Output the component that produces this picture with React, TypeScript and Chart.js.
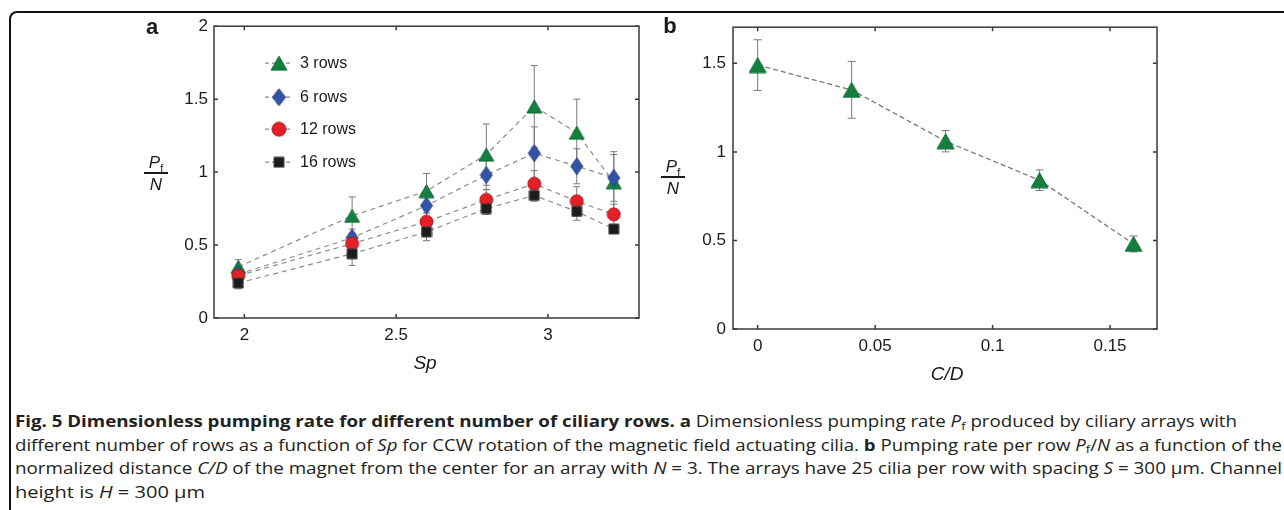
import React, { useEffect, useLayoutEffect, useRef } from "react";
import { Chart, registerables } from "chart.js";
Chart.register(...registerables);

// ---------- Panel a data ----------
const spValues = [1.98, 2.355, 2.6, 2.797, 2.955, 3.095, 3.217];
const rows3 = [0.35, 0.7, 0.87, 1.12, 1.45, 1.27, 0.93];
const rows3Err = [0.05, 0.13, 0.12, 0.21, 0.28, 0.23, 0.21];
const rows6 = [0.3, 0.55, 0.77, 0.98, 1.13, 1.04, 0.96];
const rows6Err = [0.04, 0.06, 0.08, 0.1, 0.18, 0.12, 0.16];
const rows12 = [0.29, 0.51, 0.66, 0.81, 0.92, 0.8, 0.71];
const rows12Err = [0.04, 0.07, 0.06, 0.07, 0.09, 0.1, 0.07];
const rows16 = [0.24, 0.44, 0.59, 0.75, 0.84, 0.73, 0.61];
const rows16Err = [0.04, 0.08, 0.06, 0.04, 0.04, 0.06, 0.03];
const seriesLabels = ["3 rows", "6 rows", "12 rows", "16 rows"];

const xTicksA = [2, 2.5, 3];
const xTickLabelsA = ["2", "2.5", "3"];
const yTicksA = [0, 0.5, 1, 1.5, 2];
const yTickLabelsA = ["0", "0.5", "1", "1.5", "2"];

// ---------- Panel b data ----------
const cdValues = [0, 0.04, 0.08, 0.12, 0.16];
const pfPerRow = [1.49, 1.35, 1.06, 0.84, 0.48];
const pfPerRowErr = [0.143, 0.16, 0.06, 0.058, 0.045];

const xTicksB = [0, 0.05, 0.1, 0.15];
const xTickLabelsB = ["0", "0.05", "0.1", "0.15"];
const yTicksB = [0, 0.5, 1, 1.5];
const yTickLabelsB = ["0", "0.5", "1", "1.5"];

const FONT = '"Liberation Sans", Arial, Helvetica, sans-serif';

function makeMarker(kind: string, fill: string, stroke: string, w: number, h: number) {
  const c = document.createElement("canvas");
  c.width = w + 2;
  c.height = h + 2;
  const ctx = c.getContext("2d")!;
  ctx.fillStyle = fill;
  ctx.strokeStyle = stroke;
  ctx.lineWidth = 1;
  ctx.beginPath();
  const cx = c.width / 2;
  const cy = c.height / 2;
  if (kind === "triangle") {
    ctx.moveTo(cx, 1);
    ctx.lineTo(w + 1, h + 1);
    ctx.lineTo(1, h + 1);
    ctx.closePath();
  } else if (kind === "diamond") {
    ctx.moveTo(cx, 1);
    ctx.lineTo(w + 1, cy);
    ctx.lineTo(cx, h + 1);
    ctx.lineTo(1, cy);
    ctx.closePath();
  } else if (kind === "circle") {
    ctx.ellipse(cx, cy, w / 2, h / 2, 0, 0, Math.PI * 2);
  } else {
    ctx.rect(1, 1, w, h);
  }
  ctx.fill();
  ctx.stroke();
  return c;
}

function labelFor(values: number[], labels: string[]) {
  return (v: any) => {
    const i = values.findIndex((t) => Math.abs(t - Number(v)) < 1e-9);
    return i >= 0 ? labels[i] : "";
  };
}

const boxPlugin = {
  id: "boxTicks",
  beforeDatasetsDraw(chart: any) {
    const { ctx, chartArea: a, scales } = chart;
    ctx.save();
    ctx.strokeStyle = "#3a3a3a";
    ctx.lineWidth = 1.5;
    ctx.strokeRect(a.left, a.top, a.right - a.left, a.bottom - a.top);
    const L = 4;
    ctx.beginPath();
    scales.x.ticks.forEach((t: any) => {
      const x = scales.x.getPixelForValue(t.value);
      ctx.moveTo(x, a.bottom);
      ctx.lineTo(x, a.bottom - L);
      ctx.moveTo(x, a.top);
      ctx.lineTo(x, a.top + L);
    });
    scales.y.ticks.forEach((t: any) => {
      const y = scales.y.getPixelForValue(t.value);
      ctx.moveTo(a.left, y);
      ctx.lineTo(a.left + L, y);
      ctx.moveTo(a.right, y);
      ctx.lineTo(a.right - L, y);
    });
    ctx.stroke();
    ctx.restore();
  },
};

const errorBarPlugin = {
  id: "errorBars",
  beforeDatasetsDraw(chart: any) {
    const { ctx, scales } = chart;
    chart.data.datasets.forEach((ds: any) => {
      const errs = ds.errors;
      if (!errs) return;
      ctx.save();
      ctx.strokeStyle = "#7a7a7a";
      ctx.lineWidth = 1;
      ctx.beginPath();
      ds.data.forEach((p: any, j: number) => {
        const x = scales.x.getPixelForValue(p.x);
        const y1 = scales.y.getPixelForValue(p.y - errs[j]);
        const y2 = scales.y.getPixelForValue(p.y + errs[j]);
        const cw = ds.capHalf || 3.5;
        ctx.moveTo(x, y1);
        ctx.lineTo(x, y2);
        ctx.moveTo(x - cw, y1);
        ctx.lineTo(x + cw, y1);
        ctx.moveTo(x - cw, y2);
        ctx.lineTo(x + cw, y2);
      });
      ctx.stroke();
      ctx.restore();
    });
  },
};

const legendPlugin = {
  id: "insideLegend",
  afterDatasetsDraw(chart: any) {
    const { ctx, chartArea: a } = chart;
    const offsets = [37, 71, 103, 136];
    chart.data.datasets.forEach((ds: any, i: number) => {
      const y = a.top + offsets[i];
      ctx.save();
      ctx.setLineDash([4, 3]);
      ctx.strokeStyle = "#8a8a8a";
      ctx.lineWidth = 1.2;
      ctx.beginPath();
      ctx.moveTo(a.left + 51, y);
      ctx.lineTo(a.left + 79, y);
      ctx.stroke();
      ctx.setLineDash([]);
      const img = ds.legendImage;
      ctx.drawImage(img, a.left + 65 - img.width / 2, y - img.height / 2);
      ctx.fillStyle = "#1a1a1a";
      ctx.font = `16px ${FONT}`;
      ctx.textBaseline = "middle";
      ctx.textAlign = "left";
      ctx.fillText(ds.label, a.left + 86, y);
      ctx.restore();
    });
  },
};

function axisConfig(
  min: number,
  max: number,
  ticks: number[],
  labels: string[],
  fitSize: number,
  horizontal: boolean,
  padding: number
) {
  return {
    type: "linear",
    min,
    max,
    grid: { display: false, drawTicks: false },
    border: { display: false },
    afterBuildTicks: (s: any) => {
      s.ticks = ticks.map((v) => ({ value: v }));
    },
    afterFit: (s: any) => {
      if (horizontal) s.height = fitSize;
      else s.width = fitSize;
    },
    ticks: {
      padding,
      color: "#1a1a1a",
      font: { size: 17, family: FONT },
      maxRotation: 0,
      autoSkip: false,
      callback: labelFor(ticks, labels),
    },
  };
}

const captionWidths = [1222, 1267, 1267, 190];

const abs = (x: number, y: number, extra: React.CSSProperties = {}): React.CSSProperties => ({
  position: "absolute",
  left: x,
  top: y,
  transform: "translate(-50%, -50%)",
  whiteSpace: "nowrap",
  fontFamily: FONT,
  color: "#1a1a1a",
  lineHeight: 1,
  ...extra,
});

function Fraction({ cx, lineY }: { cx: number; lineY: number }) {
  return (
    <>
      <div style={abs(cx, lineY - 11, { fontSize: 17 })}>
        <i>P</i>
        <span style={{ fontSize: 11, position: "relative", top: 4 }}>f</span>
      </div>
      <div
        style={{
          position: "absolute",
          left: cx - 12,
          top: lineY - 0.6,
          width: 24,
          height: 1.3,
          background: "#1a1a1a",
        }}
      />
      <div style={abs(cx, lineY + 11, { fontSize: 17 })}>
        <i>N</i>
      </div>
    </>
  );
}

export default function App() {
  const refA = useRef<HTMLCanvasElement>(null);
  const refB = useRef<HTMLCanvasElement>(null);
  const capRefs = useRef<(HTMLSpanElement | null)[]>([]);

  useLayoutEffect(() => {
    capRefs.current.forEach((el, i) => {
      if (!el) return;
      el.style.transform = "none";
      const w = el.getBoundingClientRect().width;
      if (w > 0) el.style.transform = `scaleX(${captionWidths[i] / w})`;
    });
  }, []);

  useEffect(() => {
    const green = makeMarker("triangle", "#138040", "#0d6a33", 15, 13);
    const blue = makeMarker("diamond", "#3553a6", "#243f8a", 12, 17);
    const red = makeMarker("circle", "#e41f26", "#b3161b", 13, 13);
    const black = makeMarker("rect", "#1c1c1c", "#444", 10, 10);
    const greenL = makeMarker("triangle", "#138040", "#0d6a33", 16, 14);
    const blueL = makeMarker("diamond", "#3553a6", "#243f8a", 13, 17);
    const redL = makeMarker("circle", "#e41f26", "#b3161b", 14, 14);
    const blackL = makeMarker("rect", "#1c1c1c", "#444", 10, 10);
    const greenB = makeMarker("triangle", "#138040", "#0d6a33", 17, 15);

    const series = [
      { y: rows3, e: rows3Err, img: green, leg: greenL, order: 4 },
      { y: rows6, e: rows6Err, img: blue, leg: blueL, order: 3 },
      { y: rows12, e: rows12Err, img: red, leg: redL, order: 2 },
      { y: rows16, e: rows16Err, img: black, leg: blackL, order: 1 },
    ];

    const chartA = new Chart(refA.current!, {
      type: "line",
      data: {
        datasets: series.map((s, i) => ({
          label: seriesLabels[i],
          data: spValues.map((x, j) => ({ x, y: s.y[j] })),
          errors: s.e,
          legendImage: s.leg,
          order: s.order,
          borderColor: "#8c8c8c",
          borderWidth: 1.2,
          borderDash: [5, 4],
          pointStyle: s.img,
          pointRadius: 6,
          tension: 0,
          fill: false,
        })) as any,
      },
      options: {
        responsive: false,
        animation: false,
        devicePixelRatio: 1,
        layout: { padding: { top: 16, right: 21, left: 0, bottom: 0 } },
        plugins: { legend: { display: false }, tooltip: { enabled: false } },
        scales: {
          x: axisConfig(1.9, 3.3, xTicksA, xTickLabelsA, 37, true, 7) as any,
          y: axisConfig(0, 2, yTicksA, yTickLabelsA, 84, false, 6) as any,
        },
      },
      plugins: [boxPlugin, errorBarPlugin, legendPlugin],
    });

    const chartB = new Chart(refB.current!, {
      type: "line",
      data: {
        datasets: [
          {
            label: "3 rows",
            data: cdValues.map((x, j) => ({ x, y: pfPerRow[j] })),
            errors: pfPerRowErr,
            capHalf: 4,
            borderColor: "#7a7a7a",
            borderWidth: 1.3,
            borderDash: [5, 3],
            pointStyle: greenB,
            pointRadius: 6,
            tension: 0,
            fill: false,
          } as any,
        ],
      },
      options: {
        responsive: false,
        animation: false,
        devicePixelRatio: 1,
        layout: { padding: { top: 16, right: 23, left: 0, bottom: 0 } },
        plugins: { legend: { display: false }, tooltip: { enabled: false } },
        scales: {
          x: axisConfig(-0.0105, 0.17, xTicksB, xTickLabelsB, 41, true, 7) as any,
          y: axisConfig(0, 1.704, yTicksB, yTickLabelsB, 83, false, 7) as any,
        },
      },
      plugins: [boxPlugin, errorBarPlugin],
    });

    return () => {
      chartA.destroy();
      chartB.destroy();
    };
  }, []);

  const capLine = (i: number, content: React.ReactNode) => (
    <div
      key={i}
      style={{
        position: "absolute",
        left: 15,
        top: 410 + i * 23.5,
        height: 23.5,
        lineHeight: "23.5px",
        whiteSpace: "nowrap",
      }}
    >
      <span
        ref={(el) => {
          capRefs.current[i] = el;
        }}
        style={{ display: "inline-block", transformOrigin: "left center" }}
      >
        {content}
      </span>
    </div>
  );

  const sub = (t: string) => (
    <span style={{ fontSize: "0.7em", position: "relative", top: "0.25em" }}>{t}</span>
  );

  return (
    <div
      style={{
        position: "fixed",
        left: 0,
        top: 0,
        width: 1284,
        height: 510,
        background: "#fff",
        overflow: "hidden",
      }}
    >
      {/* outer frame */}
      <div
        style={{
          position: "absolute",
          left: 9,
          top: 10.5,
          width: 1300,
          height: 520,
          boxSizing: "border-box",
          borderTop: "2px solid #111",
          borderLeft: "2px solid #111",
          borderTopLeftRadius: 8,
        }}
      />

      <canvas
        ref={refA}
        width={530}
        height={345}
        style={{ position: "absolute", left: 130, top: 10, width: 530, height: 345 }}
      />
      <canvas
        ref={refB}
        width={530}
        height={360}
        style={{ position: "absolute", left: 650, top: 10, width: 530, height: 360 }}
      />

      {/* panel labels and axis titles */}
      <div style={abs(152, 27, { fontSize: 22, fontWeight: "bold" })}>a</div>
      <div style={abs(670, 26, { fontSize: 22, fontWeight: "bold" })}>b</div>
      <Fraction cx={156} lineY={173} />
      <Fraction cx={673} lineY={177} />
      <div style={abs(425, 362, { fontSize: 19, fontStyle: "italic" })}>Sp</div>
      <div style={abs(947, 373, { fontSize: 19, fontStyle: "italic" })}>C/D</div>

      {/* caption */}
      <div style={{ fontFamily: '"Open Sans", sans-serif', fontSize: 16, color: "#222" }}>
        {capLine(
          0,
          <>
            <b>Fig. 5 Dimensionless pumping rate for different number of ciliary rows. a</b>{" "}
            Dimensionless pumping rate <i>P</i>
            {sub("f")} produced by ciliary arrays with
          </>
        )}
        {capLine(
          1,
          <>
            different number of rows as a function of <i>Sp</i> for CCW rotation of the magnetic field
            actuating cilia. <b>b</b> Pumping rate per row <i>P</i>
            {sub("f")}/<i>N</i> as a function of the
          </>
        )}
        {capLine(
          2,
          <>
            normalized distance <i>C/D</i> of the magnet from the center for an array with <i>N</i> = 3.
            The arrays have 25 cilia per row with spacing <i>S</i> = 300 μm. Channel
          </>
        )}
        {capLine(
          3,
          <>
            height is <i>H</i> = 300 μm
          </>
        )}
      </div>
    </div>
  );
}
